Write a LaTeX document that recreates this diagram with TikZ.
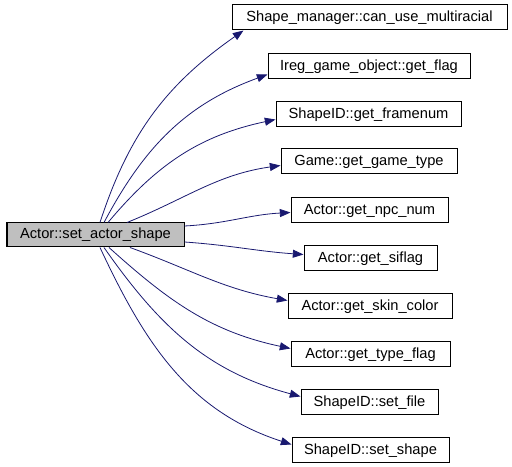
\documentclass[tikz,border=0pt]{standalone}
\usepackage{fontspec}
\setmainfont{Liberation Sans}
\usetikzlibrary{arrows.meta,calc}
\definecolor{edgeblue}{HTML}{191970}
\definecolor{maingray}{HTML}{BFBFBF}
\begin{document}
\begin{tikzpicture}[x=0.75pt,y=0.75pt,
  box/.style={draw=black, line width=0.75pt, minimum height=18.75pt, inner sep=0pt,
    font=\fontsize{11}{13}\selectfont, fill=white},
  edge/.style={draw=edgeblue, line width=0.6pt, -{Triangle[length=8pt,width=6pt]}}]
\useasboundingbox (0,0) rectangle (512,-467);
\node[box, fill=maingray, minimum width=132.75pt, minimum height=18pt] (main) at (95.5,-235) {Actor::set\_actor\_shape};
\node[box, minimum width=206.25pt] (n1) at (369.5,-17.5) {Shape\_manager::can\_use\_multiracial};
\node[box, minimum width=151.5pt] (n2) at (369,-66.5) {Ireg\_game\_object::get\_flag};
\node[box, minimum width=138.75pt] (n3) at (368.5,-114.5) {ShapeID::get\_framenum};
\node[box, minimum width=132pt] (n4) at (369,-161.5) {Game::get\_game\_type};
\node[box, minimum width=117.75pt] (n5) at (369.5,-210.5) {Actor::get\_npc\_num};
\node[box, minimum width=99.75pt] (n6) at (370.5,-258.5) {Actor::get\_siflag};
\node[box, minimum width=123pt] (n7) at (370,-306.5) {Actor::get\_skin\_color};
\node[box, minimum width=119.25pt] (n8) at (370.5,-354.5) {Actor::get\_type\_flag};
\node[box, minimum width=102.75pt] (n9) at (369.5,-402.5) {ShapeID::set\_file};
\node[box, minimum width=117.75pt] (n10) at (370.5,-450.5) {ShapeID::set\_shape};
\draw[edge] ($(main.north)+(4.5,0)$) to[out=72,in=215] ($(n1.south west)+(12,0)$);
\draw[edge] ($(main.north)+(8.5,0)$) to[out=62,in=200] ($(n2.west)+(0,-8)$);
\draw[edge] ($(main.north)+(12.5,0)$) to[out=50,in=192] ($(n3.west)+(0,-5)$);
\draw[edge] ($(main.north)+(31.5,0)$) to[out=22,in=188] ($(n4.west)+(0,-4)$);
\draw[edge] ($(main.east)+(0,9)$) to[out=3,in=183] ($(n5.west)+(0,-2)$);
\draw[edge] ($(main.east)+(0,-7)$) to[out=-4,in=176] ($(n6.west)+(0,4)$);
\draw[edge] ($(main.south)+(34.5,0)$) to[out=-20,in=170] ($(n7.west)+(0,6)$);
\draw[edge] ($(main.south)+(13.5,0)$) to[out=-42,in=168] ($(n8.west)+(0,6)$);
\draw[edge] ($(main.south)+(8.5,0)$) to[out=-55,in=165] ($(n9.west)+(0,6)$);
\draw[edge] ($(main.south)+(4.5,0)$) to[out=-65,in=162] ($(n10.west)+(0,6)$);
\end{tikzpicture}
\end{document}
